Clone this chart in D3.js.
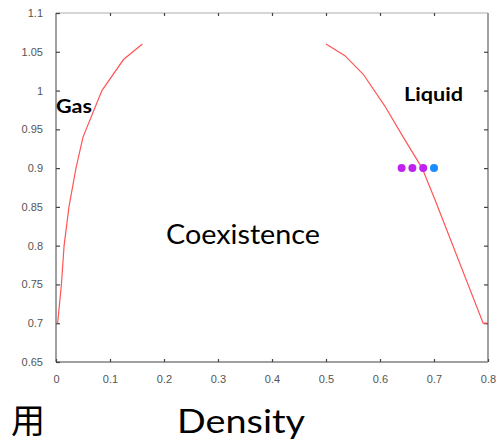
<!DOCTYPE html>
<html>
<head>
<meta charset="utf-8">
<script src="https://cdn.jsdelivr.net/npm/d3@7"></script>
<style>
  html, body { margin: 0; padding: 0; background: #fff; }
  svg { display: block; }
</style>
</head>
<body>
<svg id="chart" width="500" height="444"></svg>
<script>
// Gas branch of the coexistence curve (density, temperature)
const gasDensity = [0.003, 0.010, 0.015, 0.024, 0.037, 0.050, 0.085, 0.125, 0.160];
const gasTemp    = [0.70,  0.75,  0.80,  0.85,  0.90,  0.94,  1.00,  1.04,  1.06];

// Liquid branch of the coexistence curve
const liquidDensity = [0.500, 0.535, 0.569, 0.609, 0.643, 0.678, 0.702, 0.791, 0.798];
const liquidTemp    = [1.06,  1.045, 1.021, 0.98,  0.94,  0.90,  0.859, 0.70,  0.70];

// State points at T = 0.9
const pointDensity = [0.64, 0.66, 0.68, 0.70];
const pointTemp    = [0.9, 0.9, 0.9, 0.9];
const pointPhase   = ["coexist", "coexist", "coexist", "liquid"];

// Axis ticks
const xTicks = [0, 0.1, 0.2, 0.3, 0.4, 0.5, 0.6, 0.7, 0.8];
const xTickLabels = ["0", "0.1", "0.2", "0.3", "0.4", "0.5", "0.6", "0.7", "0.8"];
const yTicks = [0.65, 0.7, 0.75, 0.8, 0.85, 0.9, 0.95, 1, 1.05, 1.1];
const yTickLabels = ["0.65", "0.7", "0.75", "0.8", "0.85", "0.9", "0.95", "1", "1.05", "1.1"];

const svg = d3.select("#chart");
const plotLeft = 56, plotRight = 488, plotTop = 13, plotBottom = 362;

const x = d3.scaleLinear().domain([0, 0.8]).range([plotLeft, plotRight]);
const y = d3.scaleLinear().domain([0.65, 1.1]).range([plotBottom, plotTop]);

const tickFont = "'Liberation Sans', Arial, sans-serif";

// Frame
svg.append("line").attr("x1", plotLeft).attr("x2", plotRight).attr("y1", plotTop).attr("y2", plotTop)
  .attr("stroke", "#c8c8c8").attr("stroke-width", 1.5);
svg.append("line").attr("x1", plotLeft).attr("x2", plotLeft).attr("y1", plotTop).attr("y2", plotBottom)
  .attr("stroke", "#a0a0a0").attr("stroke-width", 2);
svg.append("line").attr("x1", plotRight).attr("x2", plotRight).attr("y1", plotTop).attr("y2", plotBottom)
  .attr("stroke", "#a0a0a0").attr("stroke-width", 2);
svg.append("line").attr("x1", plotLeft).attr("x2", plotRight).attr("y1", plotBottom).attr("y2", plotBottom)
  .attr("stroke", "#a0a0a0").attr("stroke-width", 2);

function styleAxis(g) {
  g.select(".domain").remove();
  g.selectAll(".tick line").attr("stroke", "#444").attr("stroke-width", 1.2);
  g.selectAll(".tick text").attr("fill", "#555")
    .style("font-family", tickFont).style("font-size", "11px");
}

// Left axis with labels, ticks pointing inward
svg.append("g").attr("transform", `translate(${plotLeft},0)`)
  .call(d3.axisLeft(y).tickValues(yTicks)
    .tickFormat((d, i) => yTickLabels[i]).tickSizeInner(-4).tickSizeOuter(0).tickPadding(13))
  .call(styleAxis);

// Bottom axis with labels
svg.append("g").attr("transform", `translate(0,${plotBottom})`)
  .call(d3.axisBottom(x).tickValues(xTicks)
    .tickFormat((d, i) => xTickLabels[i]).tickSizeInner(-3).tickSizeOuter(0).tickPadding(13))
  .call(styleAxis);

// Right and top axes: inward ticks only
svg.append("g").attr("transform", `translate(${plotRight},0)`)
  .call(d3.axisRight(y).tickValues(yTicks.slice(1, -1)).tickFormat("").tickSizeInner(-4).tickSizeOuter(0))
  .call(styleAxis);
svg.append("g").attr("transform", `translate(0,${plotTop})`)
  .call(d3.axisTop(x).tickValues(xTicks.slice(1, -1)).tickFormat("").tickSizeInner(-3).tickSizeOuter(0))
  .call(styleAxis);

// Coexistence curve branches
const line = d3.line().x(d => x(d[0])).y(d => y(d[1]));
const gasPts = gasDensity.map((d, i) => [d, gasTemp[i]]);
const liqPts = liquidDensity.map((d, i) => [d, liquidTemp[i]]);
[gasPts, liqPts].forEach(pts => {
  svg.append("path").datum(pts).attr("d", line)
    .attr("fill", "none").attr("stroke", "#ff5555").attr("stroke-width", 1.2);
});

// State points
const phaseColor = { coexist: "#c020f0", liquid: "#1a8cff" };
svg.append("g").selectAll("circle")
  .data(pointDensity.map((d, i) => ({ d, t: pointTemp[i], p: pointPhase[i] })))
  .join("circle")
  .attr("cx", v => x(v.d)).attr("cy", v => y(v.t)).attr("r", 4)
  .attr("fill", v => phaseColor[v.p]);

// Region labels
const labelFont = "Lato, 'Open Sans', sans-serif";
svg.append("text").attr("x", 56).attr("y", 113).text("Gas")
  .attr("font-family", labelFont).attr("font-weight", "bold").attr("font-size", 18)
  .attr("textLength", 36).attr("lengthAdjust", "spacingAndGlyphs");
svg.append("text").attr("x", 404).attr("y", 101).text("Liquid")
  .attr("font-family", labelFont).attr("font-weight", "bold").attr("font-size", 19)
  .attr("textLength", 59).attr("lengthAdjust", "spacingAndGlyphs");
svg.append("text").attr("x", 166).attr("y", 244).text("Coexistence")
  .attr("font-family", labelFont).attr("font-size", 27)
  .attr("textLength", 154).attr("lengthAdjust", "spacingAndGlyphs");

// Axis title
svg.append("text").attr("x", 177).attr("y", 433).text("Density")
  .attr("font-family", labelFont).attr("font-size", 32)
  .attr("textLength", 128).attr("lengthAdjust", "spacingAndGlyphs");

// Side text
svg.append("text").attr("x", 45).attr("y", 433).attr("text-anchor", "end").text("用")
  .attr("font-family", "'Noto Sans CJK SC', sans-serif").attr("font-size", 34);
</script>
</body>
</html>
